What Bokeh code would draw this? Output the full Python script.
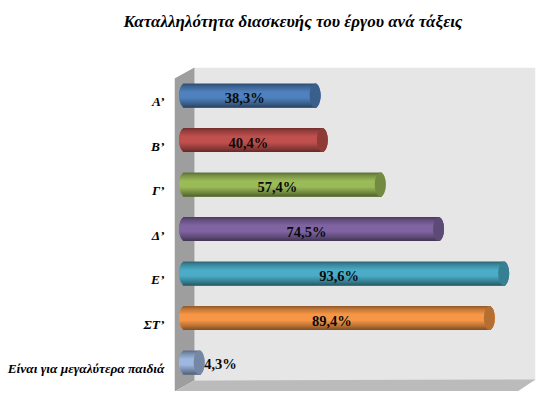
import numpy as np
from bokeh.embed import file_html
from bokeh.models import FixedTicker, Range1d, Title
from bokeh.plotting import figure
from bokeh.resources import INLINE
from bokeh.core.properties import value

title_text = "Καταλληλότητα διασκευής του έργου ανά τάξεις"
categories = ["Α’", "Β’", "Γ’", "Δ’", "Ε’", "ΣΤ’", "Είναι για μεγαλύτερα παιδιά"]
percent = [38.3, 40.4, 57.4, 74.5, 93.6, 89.4, 4.3]
colors = ["#4F81BD", "#C0504D", "#9BBB59", "#8064A2", "#4BACC6", "#F79646", "#9DB7E0"]

FONT = "Liberation Serif"
# pixel layout of the 3D box
FL, FR, FT, FB = 174, 535, 67, 391   # plot frame
X0, XS = 184.0, 3.41                 # px of 0 %, px per %
Y0, YS = 95.0, 44.5                  # px of first bar, px per category
BAR_H = 24.0
CAP_W = 11.0
W, H = 537, 391


def dx(px):
    return (px - X0) / XS


def dy(px):
    return (px - Y0) / YS


p = figure(
    width=W, height=H, output_backend="svg", toolbar_location=None,
    x_range=Range1d(dx(FL), dx(FR)), y_range=Range1d(dy(FB), dy(FT)),
    x_axis_location=None, min_border_left=FL, min_border_top=FT,
    min_border_right=W - FR, min_border_bottom=H - FB,
    outline_line_color=None, background_fill_color=None,
    border_fill_color="white",
)
p.grid.visible = False

# title, held away from the frame by a blank spacer title
p.title.text = title_text
p.title.text_font = FONT
p.title.text_font_style = "bold italic"
p.title.text_font_size = "17px"
p.title.text_color = "#000000"
p.title.align = "left"
p.title.offset = 123 - FL
p.title.standoff = 0
p.add_layout(Title(text=" ", standoff=24, text_font_size="10px"), "above")

# walls
p.patch([dx(194), dx(FR), dx(FR), dx(194)], [dy(FT), dy(FT), dy(380), dy(380)],
        color="#E6E6E6", line_color=None)
p.patch([dx(FL), dx(194), dx(194), dx(FL)], [dy(78), dy(FT), dy(380), dy(FB)],
        color="#9E9E9E", line_color=None)
p.patch([dx(FL), dx(194), dx(FR), dx(517)], [dy(FB), dy(380), dy(379), dy(FB)],
        color="#BBBBBB", line_color=None)


def shade(hex_color, f):
    rgb = np.array([int(hex_color[i:i + 2], 16) for i in (1, 3, 5)], dtype=float)
    rgb = np.clip(rgb * f, 0, 255).astype(int)
    return "#%02x%02x%02x" % tuple(rgb)


# cylinders: stacked strips give the shading, an ellipse closes the right end
N = 24
edges = np.linspace(-1, 1, N + 1)
ts = (edges[:-1] + edges[1:]) / 2
profile = np.interp(ts, [-1, -0.75, -0.3, 0.2, 0.7, 1], [0.58, 0.78, 1.0, 1.0, 0.72, 0.52])
a = (CAP_W / 2) / XS
half = (BAR_H / 2) / YS

ys, hs, lefts, rights, fills = [], [], [], [], []
for i, (v, c) in enumerate(zip(percent, colors)):
    for k, (t, f) in enumerate(zip(ts, profile)):
        last = min(k + 2, N - 1)          # each strip also covers the next two rows to hide seams
        narrowest = max(abs(t), abs(ts[last]))
        bulge = a * np.sqrt(1 - narrowest * narrowest)
        top = edges[k]
        bot = edges[last + 1]
        ys.append(i + (top + bot) / 2 * half)
        hs.append((bot - top) * half)
        lefts.append(-bulge)
        rights.append(v + bulge)
        fills.append(shade(c, f))
p.hbar(y=ys, left=lefts, right=rights, height=hs, color=fills, line_color=None)

p.ellipse(x=percent, y=list(range(len(percent))), width=2 * a, height=2 * half,
          color=[shade(c, 0.74) for c in colors], line_color=None)

# value labels
inside = [i for i, v in enumerate(percent) if v > 10]
outside = [i for i, v in enumerate(percent) if v <= 10]
label = [f"{v:.1f}%".replace(".", ",") for v in percent]
p.text(x=[percent[i] / 2 for i in inside], y=inside, text=[label[i] for i in inside],
       x_offset=-5, y_offset=2.5, text_align="center", text_baseline="middle",
       text_font=value(FONT), text_font_style="bold", text_font_size="14.5px", text_color="#0A0A0A")
p.text(x=[percent[i] for i in outside], y=outside, text=[label[i] for i in outside],
       x_offset=5, y_offset=1, text_align="left", text_baseline="middle",
       text_font=value(FONT), text_font_style="bold", text_font_size="14.5px", text_color="#0A0A0A")

# category axis
LABEL_SHIFT = 0.135
ticks = [i + LABEL_SHIFT for i in range(len(categories))]
ax = p.yaxis[0]
ax.ticker = FixedTicker(ticks=ticks)
ax.major_label_overrides = dict(zip(ticks, categories))
ax.axis_line_color = None
ax.major_tick_line_color = None
ax.minor_tick_line_color = None
ax.major_tick_out = 0
ax.major_tick_in = 0
ax.major_label_standoff = 10
ax.major_label_text_font = FONT
ax.major_label_text_font_style = "bold italic"
ax.major_label_text_font_size = "13.4px"
ax.major_label_text_color = "#000000"

open("out.html", "w").write(file_html(p, INLINE))
